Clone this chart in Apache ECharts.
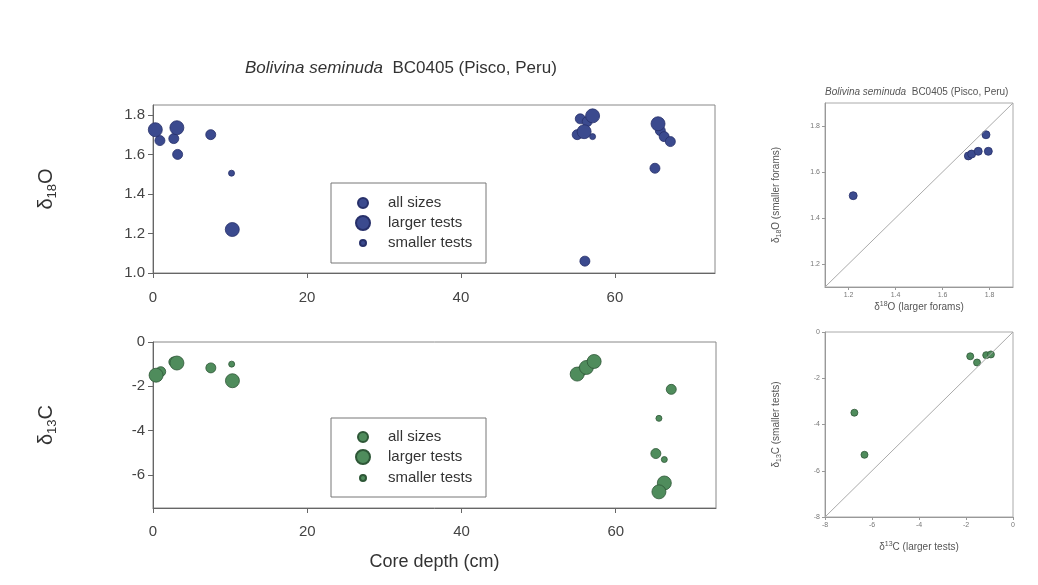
<!DOCTYPE html>
<html><head><meta charset="utf-8">
<script src="https://cdn.jsdelivr.net/npm/echarts@6/dist/echarts.min.js"></script>
<style>html,body{margin:0;padding:0;background:#fff}#c{width:1038px;height:585px}</style>
</head><body><div id="c"></div>
<script>
// ---- data ----
const o18AllDepth   = [0.9, 2.7, 3.2, 7.5, 55.1, 55.5, 56.4, 56.1, 65.2, 65.9, 66.4, 67.2];
const o18AllValue   = [1.67, 1.68, 1.60, 1.70, 1.70, 1.78, 1.766, 1.06, 1.53, 1.72, 1.69, 1.665];
const o18LargeDepth = [0.3, 3.1, 10.3, 56.0, 57.1, 65.6];
const o18LargeValue = [1.725, 1.735, 1.22, 1.715, 1.795, 1.755];
const o18SmallDepth = [10.2, 57.1];
const o18SmallValue = [1.505, 1.69];

const c13AllDepth   = [1.0, 2.7, 7.5, 55.6, 56.7, 67.2, 65.2];
const c13AllValue   = [-1.34, -0.9, -1.17, -1.3, -1.0, -2.14, -5.04];
const c13LargeDepth = [0.4, 3.1, 10.3, 55.0, 56.2, 57.2, 66.3, 65.6];
const c13LargeValue = [-1.5, -0.95, -1.75, -1.45, -1.15, -0.88, -6.37, -6.77];
const c13SmallDepth = [10.2, 65.6, 66.3];
const c13SmallValue = [-1.0, -3.45, -5.31];

const o18Larger  = [1.22, 1.71, 1.724, 1.752, 1.795, 1.785];
const o18Smaller = [1.497, 1.67, 1.678, 1.69, 1.69, 1.762];
const c13Larger  = [-6.75, -6.32, -1.82, -1.53, -1.14, -0.94];
const c13Smaller = [-3.49, -5.31, -1.05, -1.32, -1.0, -0.97];

const oneToOneO = [1.1, 1.9];
const oneToOneC = [-8, 0];

const depthTicks    = [0, 20, 40, 60];
const o18Ticks      = [1.0, 1.2, 1.4, 1.6, 1.8];
const c13Ticks      = [-6, -4, -2, 0];
const scatterOTicks = [1.2, 1.4, 1.6, 1.8];
const scatterCTicks = [-8, -6, -4, -2, 0];

const legendNames = ['all sizes', 'larger tests', 'smaller tests'];
// ---------------------------------------

const zip = (a, b) => a.map((v, i) => [v, b[i]]);
const FONT = 'Liberation Sans, Arial, sans-serif';
const BLUE = '#3b4a8e', BLUE_B = '#27306a';
const GREEN = '#4f8c5c', GREEN_B = '#2e5737';
const SIZES = [10, 14, 6];

function xAx(grid, min, max, ticks, opt) {
  return Object.assign({
    gridIndex: grid, type: 'value', min: min, max: max,
    splitLine: {show: false},
    axisLine: {show: true, onZero: false, lineStyle: {color: '#666', width: 1}},
    axisTick: {show: true, length: 5, customValues: ticks, lineStyle: {color: '#666'}},
    axisLabel: {customValues: ticks, margin: 14, fontSize: 15, color: '#444', fontFamily: FONT}
  }, opt || {});
}
function yAx(grid, min, max, ticks, opt) {
  return Object.assign({
    gridIndex: grid, type: 'value', min: min, max: max,
    splitLine: {show: false},
    axisLine: {show: true, onZero: false, lineStyle: {color: '#666', width: 1}},
    axisTick: {show: true, length: 5, customValues: ticks, lineStyle: {color: '#666'}},
    axisLabel: {customValues: ticks, margin: 8, fontSize: 15, color: '#444', fontFamily: FONT}
  }, opt || {});
}

const bigName = (sub, last) => ({
  name: '{a|δ}{b|' + sub + '}{a|' + last + '}',
  nameLocation: 'middle', nameRotate: 90, nameGap: 94,
  nameTextStyle: {
    rich: {
      a: {fontSize: 20, fontFamily: FONT, color: '#333', lineHeight: 26, verticalAlign: 'middle'},
      b: {fontSize: 13, fontFamily: FONT, color: '#333', lineHeight: 26, verticalAlign: 'bottom'}
    }
  }
});
const smallRich = {
  a: {fontSize: 10, fontFamily: FONT, color: '#555', lineHeight: 13},
  sup: {fontSize: 7, fontFamily: FONT, color: '#555', lineHeight: 13, verticalAlign: 'top'},
  sub: {fontSize: 7, fontFamily: FONT, color: '#555', lineHeight: 13, verticalAlign: 'bottom'}
};
const smallAxisLabel = {fontSize: 7, color: '#777', margin: 5, fontFamily: FONT};

function scatter(name, xi, data, size, color, border) {
  return {
    type: 'scatter', name: name, xAxisIndex: xi, yAxisIndex: xi,
    data: data, symbol: 'circle', symbolSize: size,
    itemStyle: {color: color, borderColor: border, borderWidth: 0.8, opacity: 1},
    emphasis: {disabled: true}, animation: false
  };
}

const legends = [];
const legendRowsTop = [203, 223, 243];
const legendRowsBot = [437, 457, 478];
function addLegends(rows, prefix) {
  legendNames.forEach((n, i) => {
    const s = SIZES[i];
    legends.push({
      data: [prefix + n], left: 362 - s / 2, top: rows[i] - 9,
      itemWidth: s, itemHeight: s, icon: 'circle', padding: 0,
      selectedMode: false, orient: 'horizontal',
      formatter: (nm) => nm.replace(prefix, ''),
      textStyle: {fontSize: 15, color: '#333', fontFamily: FONT, padding: [0, 0, 0, 20 - s / 2], lineHeight: 18}
    });
  });
}
addLegends(legendRowsTop, '');
addLegends(legendRowsBot, 'δ13C ');

const option = {
  backgroundColor: '#fff',
  animation: false,
  title: [
    {
      text: '{i|Bolivina seminuda}  BC0405 (Pisco, Peru)', left: 240, top: 55,
      textStyle: {fontSize: 17, fontWeight: 'normal', color: '#333', fontFamily: FONT,
        rich: {i: {fontStyle: 'italic', fontSize: 17, color: '#333', fontFamily: FONT}}}
    },
    {
      text: '{i|Bolivina seminuda}  BC0405 (Pisco, Peru)', left: 820, top: 82,
      textStyle: {fontSize: 10, fontWeight: 'normal', color: '#555', fontFamily: FONT,
        rich: {i: {fontStyle: 'italic', fontSize: 10, color: '#555', fontFamily: FONT}}}
    }
  ],
  legend: legends,
  grid: [
    {left: 153, top: 105, width: 562, height: 168, show: true, borderColor: '#888', borderWidth: 1},
    {left: 153, top: 342, width: 563, height: 166, show: true, borderColor: '#888', borderWidth: 1},
    {left: 825, top: 103, width: 188, height: 184, show: true, borderColor: '#aaa', borderWidth: 1},
    {left: 825, top: 332, width: 188, height: 185, show: true, borderColor: '#aaa', borderWidth: 1}
  ],
  xAxis: [
    xAx(0, 0, 73, depthTicks, {axisLabel: {customValues: depthTicks, margin: 17, fontSize: 15, color: '#444', fontFamily: FONT}}),
    xAx(1, 0, 73, depthTicks, {
      axisLabel: {customValues: depthTicks, margin: 16, fontSize: 15, color: '#444', fontFamily: FONT},
      name: 'Core depth (cm)', nameLocation: 'middle', nameGap: 45,
      nameTextStyle: {fontSize: 18, color: '#333', fontFamily: FONT}
    }),
    xAx(2, 1.1, 1.9, scatterOTicks, {
      axisLine: {show: true, onZero: false, lineStyle: {color: '#999'}},
      axisTick: {show: true, length: 3, customValues: scatterOTicks, lineStyle: {color: '#999'}},
      axisLabel: Object.assign({customValues: scatterOTicks, formatter: v => v.toFixed(1)}, smallAxisLabel),
      name: '{a|δ}{sup|18}{a|O (larger forams)}', nameLocation: 'middle', nameGap: 14,
      nameTextStyle: {rich: smallRich}
    }),
    xAx(3, -8, 0, scatterCTicks, {
      axisLine: {show: true, onZero: false, lineStyle: {color: '#999'}},
      axisTick: {show: true, length: 3, customValues: scatterCTicks, lineStyle: {color: '#999'}},
      axisLabel: Object.assign({customValues: scatterCTicks}, smallAxisLabel),
      name: '{a|δ}{sup|13}{a|C (larger tests)}', nameLocation: 'middle', nameGap: 24,
      nameTextStyle: {rich: smallRich}
    })
  ],
  yAxis: [
    yAx(0, 1.0, 1.85, o18Ticks, Object.assign({
      axisLabel: {customValues: o18Ticks, margin: 8, fontSize: 15, color: '#444', fontFamily: FONT, formatter: v => v.toFixed(1)}
    }, bigName('18', 'O'))),
    yAx(1, -7.5, 0, c13Ticks, bigName('13', 'C')),
    yAx(2, 1.1, 1.9, scatterOTicks, {
      axisLine: {show: true, onZero: false, lineStyle: {color: '#999'}},
      axisTick: {show: true, length: 3, customValues: scatterOTicks, lineStyle: {color: '#999'}},
      axisLabel: Object.assign({customValues: scatterOTicks, formatter: v => v.toFixed(1)}, smallAxisLabel),
      name: '{a|δ}{sub|18}{a|O (smaller forams)}', nameLocation: 'middle', nameRotate: 90, nameGap: 42,
      nameTextStyle: {rich: smallRich}
    }),
    yAx(3, -8, 0, scatterCTicks, {
      axisLine: {show: true, onZero: false, lineStyle: {color: '#999'}},
      axisTick: {show: true, length: 3, customValues: scatterCTicks, lineStyle: {color: '#999'}},
      axisLabel: Object.assign({customValues: scatterCTicks}, smallAxisLabel),
      name: '{a|δ}{sub|13}{a|C (smaller tests)}', nameLocation: 'middle', nameRotate: 90, nameGap: 42,
      nameTextStyle: {rich: smallRich}
    })
  ],
  graphic: [
    {type: 'rect', shape: {x: 331, y: 183, width: 155, height: 80}, style: {fill: 'none', stroke: '#777', lineWidth: 1}, silent: true},
    {type: 'rect', shape: {x: 331, y: 418, width: 155, height: 79}, style: {fill: 'none', stroke: '#777', lineWidth: 1}, silent: true}
  ],
  series: [
    scatter('all sizes', 0, zip(o18AllDepth, o18AllValue), SIZES[0], BLUE, BLUE_B),
    scatter('larger tests', 0, zip(o18LargeDepth, o18LargeValue), SIZES[1], BLUE, BLUE_B),
    scatter('smaller tests', 0, zip(o18SmallDepth, o18SmallValue), SIZES[2], BLUE, BLUE_B),
    scatter('δ13C all sizes', 1, zip(c13AllDepth, c13AllValue), SIZES[0], GREEN, GREEN_B),
    scatter('δ13C larger tests', 1, zip(c13LargeDepth, c13LargeValue), SIZES[1], GREEN, GREEN_B),
    scatter('δ13C smaller tests', 1, zip(c13SmallDepth, c13SmallValue), SIZES[2], GREEN, GREEN_B),
    {type: 'line', name: '1:1 O', xAxisIndex: 2, yAxisIndex: 2, data: zip(oneToOneO, oneToOneO),
     showSymbol: false, symbol: 'none', lineStyle: {color: '#aaa', width: 1}, silent: true},
    {type: 'line', name: '1:1 C', xAxisIndex: 3, yAxisIndex: 3, data: zip(oneToOneC, oneToOneC),
     showSymbol: false, symbol: 'none', lineStyle: {color: '#aaa', width: 1}, silent: true},
    scatter('δ18O pairs', 2, zip(o18Larger, o18Smaller), 8, BLUE, BLUE_B),
    scatter('δ13C pairs', 3, zip(c13Larger, c13Smaller), 7, GREEN, GREEN_B)
  ]
};
const chart = echarts.init(document.getElementById('c'));
chart.setOption(option);
</script></body></html>
